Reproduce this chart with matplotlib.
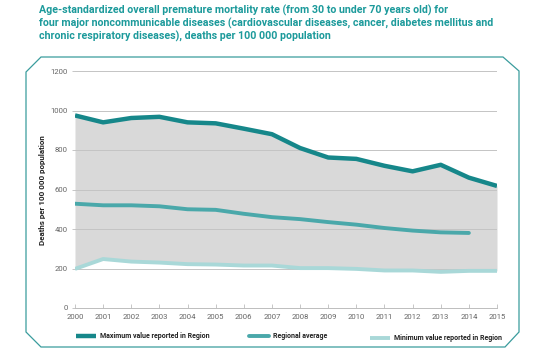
import matplotlib
matplotlib.use("Agg")
import matplotlib.pyplot as plt
from matplotlib.patches import Polygon

YEARS = list(range(2000, 2016))
MAX_VALUES = [975, 940, 962, 968, 940, 935, 908, 880, 810, 762, 755, 720, 692, 725, 660, 618]
AVG_YEARS = list(range(2000, 2015))
AVG_VALUES = [528, 520, 520, 515, 500, 497, 477, 460, 450, 435, 422, 405, 392, 383, 380]
MIN_VALUES = [198, 248, 235, 230, 222, 220, 215, 215, 202, 202, 198, 190, 190, 183, 188, 188]
Y_TICKS = [0, 200, 400, 600, 800, 1000, 1200]

TITLE = ("Age-standardized overall premature mortality rate (from 30 to under 70 years old) for\n"
         "four major noncommunicable diseases (cardiovascular diseases, cancer, diabetes mellitus and\n"
         "chronic respiratory diseases), deaths per 100 000 population")

C_MAX = "#16878a"
C_AVG = "#4aa8aa"
C_MIN = "#a9d8d8"
C_TITLE = "#1c9a9b"
C_FRAME = "#3a9c9d"

W, H = 534, 352
fig = plt.figure(figsize=(W / 100, H / 100), dpi=100)


def px(x, y):
    return (x / W, 1 - y / H)


frame = Polygon(
    [px(26, 72), px(41, 57), px(503, 57), px(519, 71),
     px(519, 332), px(505, 347), px(41, 347), px(26, 332)],
    closed=True, transform=fig.transFigure, facecolor="white",
    edgecolor=C_FRAME, linewidth=0.9, zorder=-1,
)
fig.patches.append(frame)

fig.text(39 / W, 1 - 5 / H, TITLE, ha="left", va="top", color=C_TITLE,
         fontsize=7.7, fontweight="bold", family="Roboto", linespacing=1.2)

ax = fig.add_axes([75 / W, 1 - 308 / H, (497 - 75) / W, (308 - 71) / H])
ax.set_facecolor("none")

ax.fill_between(YEARS, MIN_VALUES, MAX_VALUES, color="#d9d9d9", linewidth=0, zorder=1)
for v in Y_TICKS[1:]:
    ax.axhline(v, color="#c4c4c4", linewidth=0.7, zorder=2)

l_max, = ax.plot(YEARS, MAX_VALUES, color=C_MAX, linewidth=3.2, zorder=4,
                 solid_capstyle="butt", solid_joinstyle="round",
                 label="Maximum value reported in Region")
l_avg, = ax.plot(AVG_YEARS, AVG_VALUES, color=C_AVG, linewidth=2.8, zorder=4,
                 solid_capstyle="round", solid_joinstyle="round",
                 label="Regional average")
l_min, = ax.plot(YEARS, MIN_VALUES, color=C_MIN, linewidth=2.8, zorder=3,
                 solid_capstyle="butt", solid_joinstyle="round",
                 label="Minimum value reported in Region")

ax.set_xlim(2000, 2015)
ax.set_ylim(0, 1200)
ax.set_xticks(YEARS)
ax.set_yticks(Y_TICKS)
for side in ["top", "right", "left"]:
    ax.spines[side].set_visible(False)
ax.spines["bottom"].set_color("#bdbdbd")
ax.spines["bottom"].set_linewidth(0.7)
ax.tick_params(axis="x", direction="in", length=3, width=0.6, color="#bdbdbd",
               labelsize=5.6, labelcolor="#666666", pad=4)
ax.tick_params(axis="y", direction="out", length=2, width=0.6, color="#bdbdbd",
               labelsize=5.6, labelcolor="#666666", pad=3)
for lab in ax.get_xticklabels() + ax.get_yticklabels():
    lab.set_family("Roboto")

fig.text(43 / W, 1 - 190 / H, "Deaths per 100 000 population", rotation=90,
         ha="center", va="center", fontsize=5.8, fontweight="bold",
         family="Roboto", color="#222222")

legend_spots = [(l_max, 76, 336), (l_avg, 249, 336), (l_min, 370, 338)]
for handle, x, y in legend_spots:
    leg = fig.legend(handles=[handle], loc="center left", bbox_to_anchor=px(x, y),
                     frameon=False, handlelength=2.9, handletextpad=0.6,
                     borderaxespad=0, borderpad=0,
                     prop={"family": "Roboto", "weight": "bold", "size": 5.0})
    for t in leg.get_texts():
        t.set_color("#222222")

fig.savefig("out.png", dpi=100)
